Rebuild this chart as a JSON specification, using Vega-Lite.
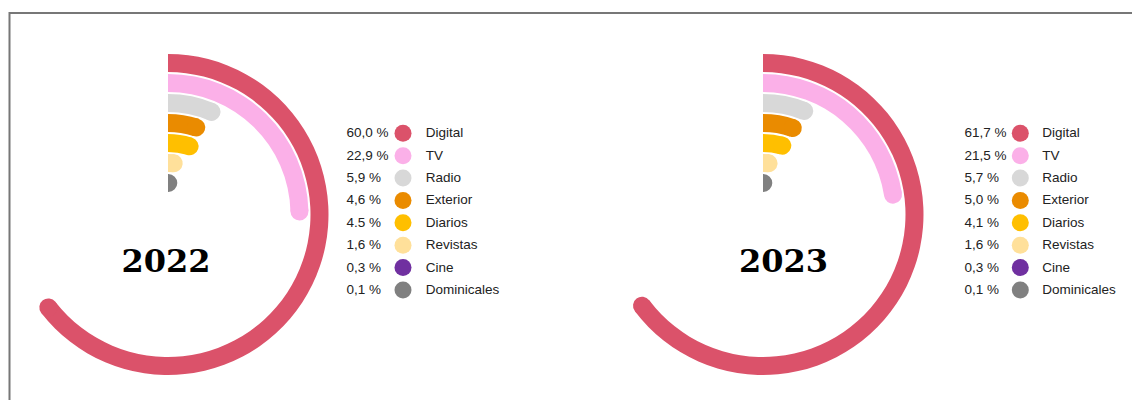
{
  "$schema": "https://vega.github.io/schema/vega-lite/v6.json",
  "width": 1140,
  "height": 403,
  "autosize": {"type": "none"},
  "padding": {"left": 9.5, "top": 13, "right": 0, "bottom": 0},
  "background": "white",
  "config": {"view": {"stroke": "#777777", "strokeWidth": 2}},
  "datasets": {
    "medios": [
      {"anio": "2022", "medio": "Digital", "valor": 60.0, "texto": "60,0 %"},
      {"anio": "2022", "medio": "TV", "valor": 22.9, "texto": "22,9 %"},
      {"anio": "2022", "medio": "Radio", "valor": 5.9, "texto": "5,9 %"},
      {"anio": "2022", "medio": "Exterior", "valor": 4.6, "texto": "4,6 %"},
      {"anio": "2022", "medio": "Diarios", "valor": 4.5, "texto": "4.5 %"},
      {"anio": "2022", "medio": "Revistas", "valor": 1.6, "texto": "1,6 %"},
      {"anio": "2022", "medio": "Cine", "valor": 0.3, "texto": "0,3 %"},
      {"anio": "2022", "medio": "Dominicales", "valor": 0.1, "texto": "0,1 %"},
      {"anio": "2023", "medio": "Digital", "valor": 61.7, "texto": "61,7 %"},
      {"anio": "2023", "medio": "TV", "valor": 21.5, "texto": "21,5 %"},
      {"anio": "2023", "medio": "Radio", "valor": 5.7, "texto": "5,7 %"},
      {"anio": "2023", "medio": "Exterior", "valor": 5.0, "texto": "5,0 %"},
      {"anio": "2023", "medio": "Diarios", "valor": 4.1, "texto": "4,1 %"},
      {"anio": "2023", "medio": "Revistas", "valor": 1.6, "texto": "1,6 %"},
      {"anio": "2023", "medio": "Cine", "valor": 0.3, "texto": "0,3 %"},
      {"anio": "2023", "medio": "Dominicales", "valor": 0.1, "texto": "0,1 %"}
    ]
  },
  "data": {"name": "medios"},
  "resolve": {"scale": {"x": "independent", "y": "independent", "theta": "independent", "radius": "independent"}},
  "layer": [
    {
      "transform": [{"filter": "datum.anio == '2022' && datum.medio != 'Cine'"}],
      "mark": {"type": "arc", "radiusOffset": 9, "radius2Offset": -9, "opacity": 1},
      "encoding": {
        "x": {"field": "anio", "type": "nominal", "scale": {"type": "point", "domain": ["2022", "2023"], "range": [158.5, 753.5], "padding": 0}, "axis": null},
        "theta": {"field": "valor", "type": "quantitative", "stack": null, "scale": {"domain": [0, 93.1], "range": [0, 6.2832]}},
        "radius": {"field": "medio", "type": "nominal", "scale": {"type": "point", "domain": ["Digital", "TV", "Radio", "Exterior", "Diarios", "Revistas", "Dominicales"], "range": [151.5, 31.5], "padding": 0}},
        "radius2": {"field": "medio"},
        "color": {"field": "medio", "type": "nominal", "scale": {"domain": ["Digital", "TV", "Radio", "Exterior", "Diarios", "Revistas", "Cine", "Dominicales"], "range": ["#db526a", "#fbb0e8", "#d8d8d8", "#ea8b00", "#ffbf00", "#ffe09a", "#7030a0", "#808080"]}, "legend": null}
      }
    },
    {
      "transform": [{"filter": "datum.anio == '2022' && datum.medio != 'Cine'"}],
      "mark": {"type": "arc", "filled": false, "strokeWidth": 18, "strokeJoin": "round", "theta2Offset": 0.003, "opacity": 1},
      "encoding": {
        "x": {"field": "anio", "type": "nominal", "scale": {"type": "point", "domain": ["2022", "2023"], "range": [158.5, 753.5], "padding": 0}, "axis": null},
        "theta": {"field": "valor", "type": "quantitative", "stack": null, "scale": {"domain": [0, 93.1], "range": [0, 6.2832]}},
        "theta2": {"field": "valor"},
        "radius": {"field": "medio", "type": "nominal", "scale": {"type": "point", "domain": ["Digital", "TV", "Radio", "Exterior", "Diarios", "Revistas", "Dominicales"], "range": [151.5, 31.5], "padding": 0}},
        "radius2": {"field": "medio"},
        "color": {"field": "medio", "type": "nominal", "scale": {"domain": ["Digital", "TV", "Radio", "Exterior", "Diarios", "Revistas", "Cine", "Dominicales"], "range": ["#db526a", "#fbb0e8", "#d8d8d8", "#ea8b00", "#ffbf00", "#ffe09a", "#7030a0", "#808080"]}, "legend": null}
      }
    },
    {
      "transform": [{"filter": "datum.anio == '2023' && datum.medio != 'Cine'"}],
      "mark": {"type": "arc", "radiusOffset": 9, "radius2Offset": -9, "opacity": 1},
      "encoding": {
        "x": {"field": "anio", "type": "nominal", "scale": {"type": "point", "domain": ["2022", "2023"], "range": [158.5, 753.5], "padding": 0}, "axis": null},
        "theta": {"field": "valor", "type": "quantitative", "stack": null, "scale": {"domain": [0, 95.4], "range": [0, 6.2832]}},
        "radius": {"field": "medio", "type": "nominal", "scale": {"type": "point", "domain": ["Digital", "TV", "Radio", "Exterior", "Diarios", "Revistas", "Dominicales"], "range": [151.5, 31.5], "padding": 0}},
        "radius2": {"field": "medio"},
        "color": {"field": "medio", "type": "nominal", "scale": {"domain": ["Digital", "TV", "Radio", "Exterior", "Diarios", "Revistas", "Cine", "Dominicales"], "range": ["#db526a", "#fbb0e8", "#d8d8d8", "#ea8b00", "#ffbf00", "#ffe09a", "#7030a0", "#808080"]}, "legend": null}
      }
    },
    {
      "transform": [{"filter": "datum.anio == '2023' && datum.medio != 'Cine'"}],
      "mark": {"type": "arc", "filled": false, "strokeWidth": 18, "strokeJoin": "round", "theta2Offset": 0.003, "opacity": 1},
      "encoding": {
        "x": {"field": "anio", "type": "nominal", "scale": {"type": "point", "domain": ["2022", "2023"], "range": [158.5, 753.5], "padding": 0}, "axis": null},
        "theta": {"field": "valor", "type": "quantitative", "stack": null, "scale": {"domain": [0, 95.4], "range": [0, 6.2832]}},
        "theta2": {"field": "valor"},
        "radius": {"field": "medio", "type": "nominal", "scale": {"type": "point", "domain": ["Digital", "TV", "Radio", "Exterior", "Diarios", "Revistas", "Dominicales"], "range": [151.5, 31.5], "padding": 0}},
        "radius2": {"field": "medio"},
        "color": {"field": "medio", "type": "nominal", "scale": {"domain": ["Digital", "TV", "Radio", "Exterior", "Diarios", "Revistas", "Cine", "Dominicales"], "range": ["#db526a", "#fbb0e8", "#d8d8d8", "#ea8b00", "#ffbf00", "#ffe09a", "#7030a0", "#808080"]}, "legend": null}
      }
    },
    {
      "transform": [{"filter": "datum.medio == 'Digital'"}],
      "mark": {"type": "arc", "color": "white", "radiusOffset": 12, "radius2Offset": -14, "opacity": 1},
      "encoding": {
        "x": {"field": "anio", "type": "nominal", "scale": {"type": "point", "domain": ["2022", "2023"], "range": [158.5, 753.5], "padding": 0}, "axis": null},
        "theta": {"datum": -8, "type": "quantitative", "scale": {"domain": [0, 93.1], "range": [0, 6.2832], "zero": false}},
        "theta2": {"datum": 0},
        "radius": {"datum": "Revistas", "type": "nominal", "scale": {"type": "point", "domain": ["Digital", "TV", "Radio", "Exterior", "Diarios", "Revistas", "Dominicales"], "range": [151.5, 31.5], "padding": 0}},
        "radius2": {"datum": "Dominicales"}
      }
    },
    {
      "transform": [{"filter": "datum.medio == 'Digital'"}],
      "mark": {"type": "text", "font": "DejaVu Serif", "fontWeight": "bold", "fontSize": 32, "baseline": "alphabetic", "align": "center", "dy": 57.5, "color": "black"},
      "encoding": {
        "x": {"field": "anio", "type": "nominal", "scale": {"type": "point", "domain": ["2022", "2023"], "range": [156.5, 774], "padding": 0}, "axis": null},
        "text": {"field": "anio"}
      }
    },
    {
      "mark": {"type": "text", "align": "left", "baseline": "middle", "font": "Liberation Sans", "fontSize": 13.5, "color": "#222222"},
      "encoding": {
        "x": {"field": "anio", "type": "nominal", "scale": {"type": "point", "domain": ["2022", "2023"], "range": [337, 955], "padding": 0}, "axis": null},
        "y": {"field": "medio", "type": "nominal", "scale": {"type": "point", "domain": ["Digital", "TV", "Radio", "Exterior", "Diarios", "Revistas", "Cine", "Dominicales"], "range": [120.3, 277], "padding": 0}, "axis": null},
        "text": {"field": "texto"}
      }
    },
    {
      "mark": {"type": "point", "shape": "circle", "filled": true, "size": 289, "opacity": 1},
      "encoding": {
        "x": {"field": "anio", "type": "nominal", "scale": {"type": "point", "domain": ["2022", "2023"], "range": [393.5, 1010.8], "padding": 0}, "axis": null},
        "y": {"field": "medio", "type": "nominal", "scale": {"type": "point", "domain": ["Digital", "TV", "Radio", "Exterior", "Diarios", "Revistas", "Cine", "Dominicales"], "range": [120.3, 277], "padding": 0}, "axis": null},
        "color": {"field": "medio", "type": "nominal", "scale": {"domain": ["Digital", "TV", "Radio", "Exterior", "Diarios", "Revistas", "Cine", "Dominicales"], "range": ["#db526a", "#fbb0e8", "#d8d8d8", "#ea8b00", "#ffbf00", "#ffe09a", "#7030a0", "#808080"]}, "legend": null}
      }
    },
    {
      "mark": {"type": "text", "align": "left", "baseline": "middle", "font": "Liberation Sans", "fontSize": 13.5, "color": "#222222"},
      "encoding": {
        "x": {"field": "anio", "type": "nominal", "scale": {"type": "point", "domain": ["2022", "2023"], "range": [416.2, 1032.8], "padding": 0}, "axis": null},
        "y": {"field": "medio", "type": "nominal", "scale": {"type": "point", "domain": ["Digital", "TV", "Radio", "Exterior", "Diarios", "Revistas", "Cine", "Dominicales"], "range": [120.3, 277], "padding": 0}, "axis": null},
        "text": {"field": "medio"}
      }
    }
  ]
}
